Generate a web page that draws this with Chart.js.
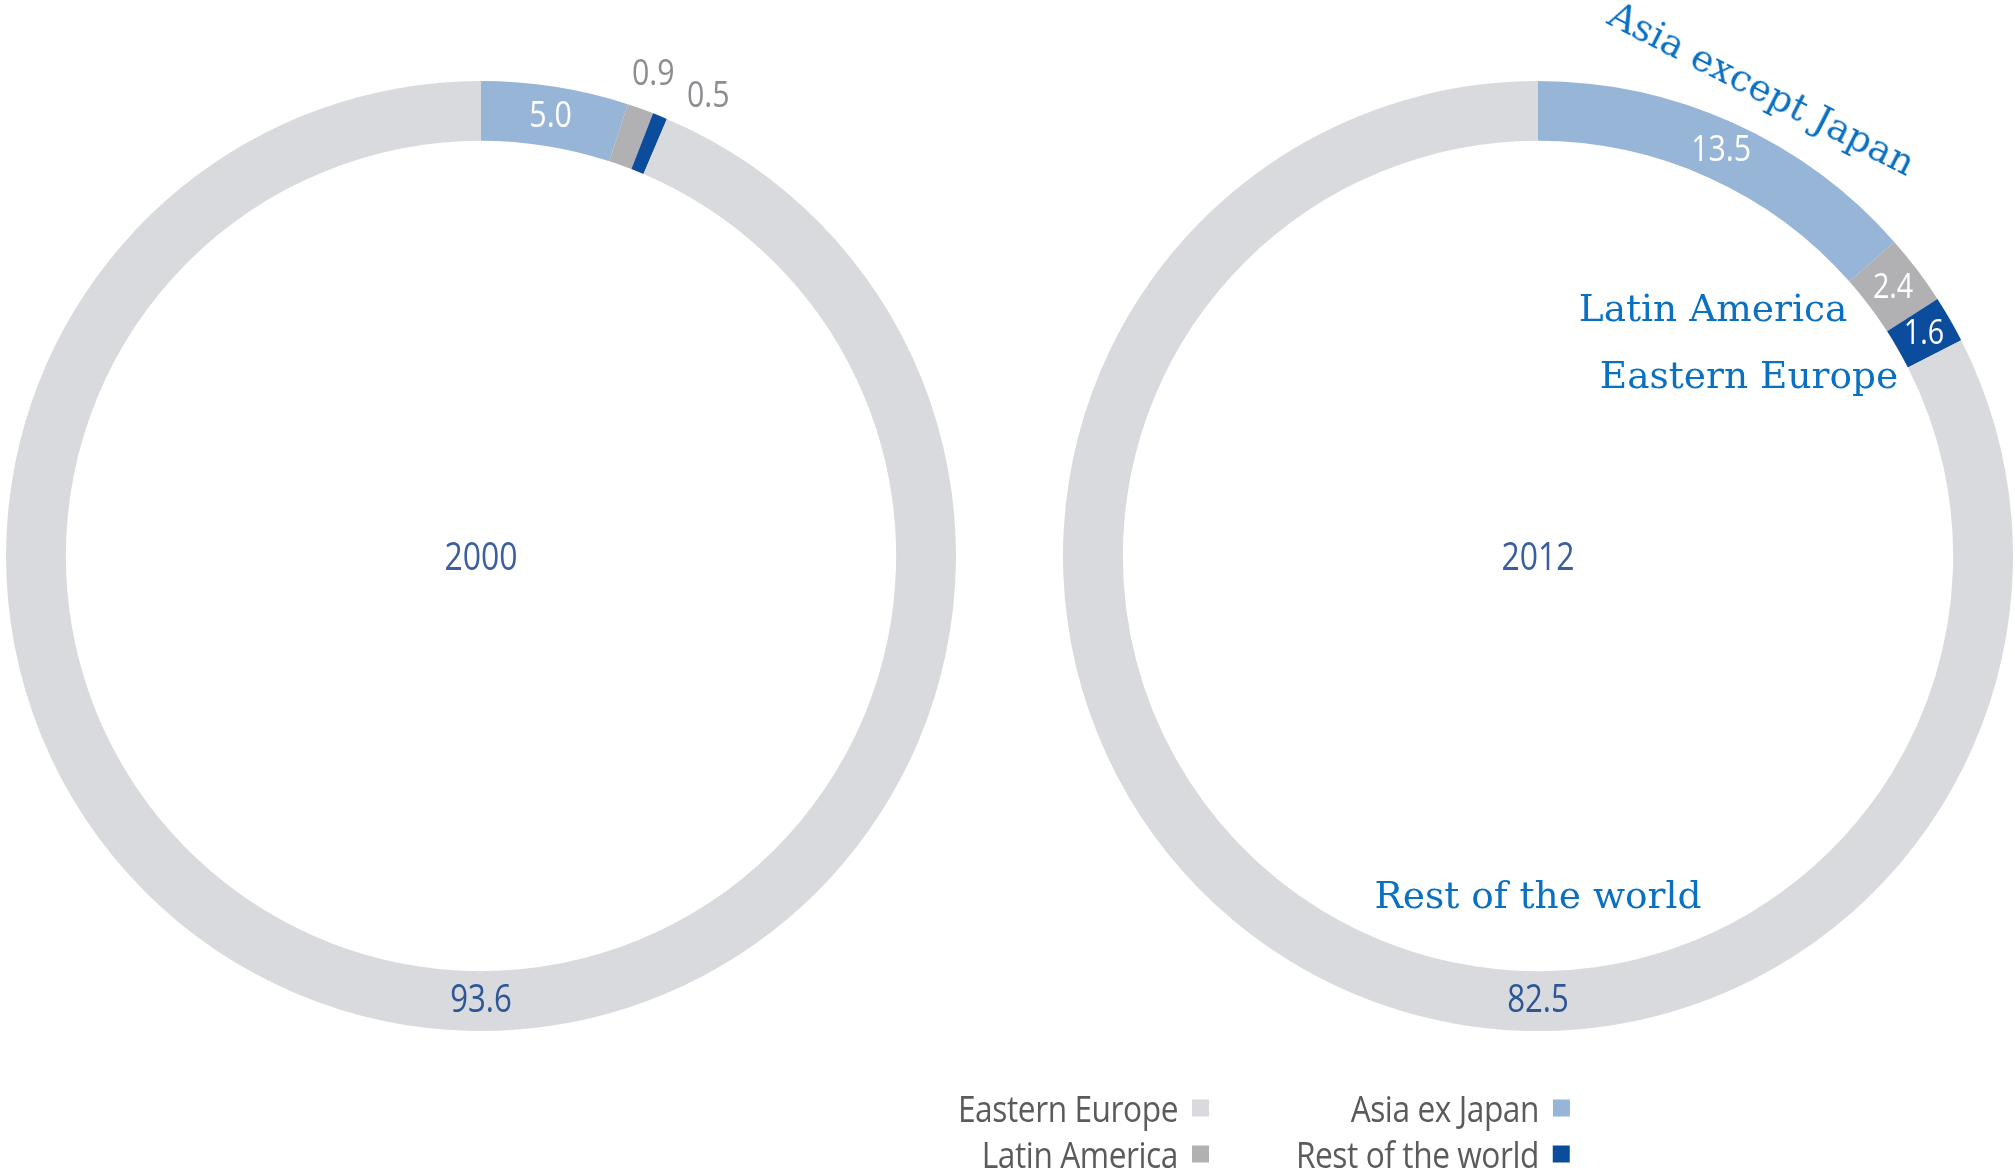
<!DOCTYPE html>
<html>
<head>
<meta charset="utf-8">
<script src="https://cdn.jsdelivr.net/npm/chart.js@4.4.1/dist/chart.umd.min.js"></script>
<style>
  html, body { margin: 0; padding: 0; background: #fff; overflow: hidden; }
  body { width: 2015px; height: 1171px; position: relative; }
  canvas { position: absolute; }
  .note {
    position: absolute; color: #0a70c2; white-space: nowrap;
    font-family: "DejaVu Serif", "Liberation Serif", serif; font-size: 37.5px;
    transform: translate(-50%, -50%);
  }
  .legend { position: absolute; font-family: "Open Sans", sans-serif;
    font-size: 36px; color: #5b5b5b; }
  .legend .row { position: absolute; display: flex; align-items: center; white-space: nowrap;
    transform: translate(-100%, -50%); }
  .legend .name { display: inline-block; transform: scaleX(0.88); transform-origin: right center; letter-spacing: -0.5px; }
  .legend .sw { width: 17px; height: 17px; margin-left: 14px; }
</style>
</head>
<body>
<canvas id="donut2000" width="950" height="1112" style="left:6px; top:0px"></canvas>
<canvas id="donut2012" width="950" height="1112" style="left:1063px; top:0px"></canvas>

<div class="note" style="left:1762px; top:88px; transform: translate(-50%,-50%) rotate(27deg)">Asia except Japan</div>
<div class="note" style="left:1713px; top:308px">Latin America</div>
<div class="note" style="left:1749px; top:375px">Eastern Europe</div>
<div class="note" style="left:1538px; top:895px">Rest of the world</div>

<div class="legend" id="legend"></div>

<script>
// shares by region, in percent
const regions = ['Asia ex Japan', 'Latin America', 'Rest of the world', 'Eastern Europe'];
const share2000 = [5.0, 0.9, 0.5, 93.6];
const share2012 = [13.5, 2.4, 1.6, 82.5];
const years = ['2000', '2012'];

const sliceColours = ['#97b5d7', '#b1b1b3', '#0b4c9c', '#d9dadd'];

// small slices get their figure outside the ring
const insideMin = 1.5;
// the biggest slice is labelled at the bottom of the ring
const bottomLabel = 3;
// pushes for outside labels that would collide
const nudges2000 = { 1: { dx: 0, dy: 2 }, 2: { dx: 34, dy: 16 } };

const labelFont = '"Open Sans", sans-serif';
const squeeze = 0.82;

// condensed text: squash the glyphs horizontally around the anchor
function narrowText(ctx, txt, x, y) {
  ctx.save();
  ctx.translate(x, y);
  ctx.scale(squeeze, 1);
  ctx.fillText(txt, 0, 0);
  ctx.restore();
}

const ringLabels = {
  id: 'ringLabels',
  afterDatasetsDraw(chart, args, opts) {
    const ctx = chart.ctx;
    const ds = chart.data.datasets[0];
    const arcs = chart.getDatasetMeta(0).data;
    ctx.save();
    ctx.textAlign = 'center';
    ctx.textBaseline = 'middle';

    arcs.forEach((arc, i) => {
      const v = ds.data[i];
      const txt = v.toFixed(1);
      const mid = (arc.startAngle + arc.endAngle) / 2;
      let r, a = mid;
      if (i === bottomLabel) {
        a = Math.PI / 2;
        r = (arc.innerRadius + arc.outerRadius) / 2;
        ctx.fillStyle = '#2c5696';
        ctx.font = '38px ' + labelFont;
      } else if (v >= insideMin) {
        r = (arc.innerRadius + arc.outerRadius) / 2;
        ctx.fillStyle = '#ffffff';
        ctx.font = (v < 3 ? '35px ' : '37px ') + labelFont;
      } else {
        r = arc.outerRadius + 38;
        ctx.fillStyle = '#8c8d90';
        ctx.font = '37px ' + labelFont;
      }
      const n = (opts.nudges || {})[i] || { dx: 0, dy: 0 };
      narrowText(ctx, txt, arc.x + r * Math.cos(a) + n.dx, arc.y + r * Math.sin(a) + n.dy);
    });

    // year in the middle
    const c = arcs[0];
    ctx.fillStyle = '#3a5e9f';
    ctx.font = '39px ' + labelFont;
    narrowText(ctx, opts.year, c.x, c.y + 3);
    ctx.restore();
  }
};

function makeDonut(id, values, year, nudges) {
  return new Chart(document.getElementById(id), {
    type: 'doughnut',
    data: {
      labels: regions,
      datasets: [{
        data: values,
        backgroundColor: sliceColours,
        borderWidth: 0
      }]
    },
    options: {
      responsive: false,
      animation: false,
      cutout: '87.4%',
      layout: { padding: { top: 81, bottom: 81, left: 0, right: 0 } },
      plugins: {
        legend: { display: false },
        tooltip: { enabled: false },
        ringLabels: { year: year, nudges: nudges }
      }
    },
    plugins: [ringLabels]
  });
}

makeDonut('donut2000', share2000, years[0], nudges2000);
makeDonut('donut2012', share2012, years[1], {});

// legend, two columns, swatch on the right of the name
const legendSpots = [
  { idx: 3, x: 1209, y: 1108 },
  { idx: 0, x: 1570, y: 1108 },
  { idx: 1, x: 1209, y: 1154 },
  { idx: 2, x: 1570, y: 1154 }
];
const legend = document.getElementById('legend');
legendSpots.forEach(s => {
  const row = document.createElement('div');
  row.className = 'row';
  row.style.left = s.x + 'px';
  row.style.top = s.y + 'px';
  const name = document.createElement('span');
  name.className = 'name';
  name.textContent = regions[s.idx];
  const sw = document.createElement('span');
  sw.className = 'sw';
  sw.style.background = sliceColours[s.idx];
  row.appendChild(name);
  row.appendChild(sw);
  legend.appendChild(row);
});
</script>
</body>
</html>
